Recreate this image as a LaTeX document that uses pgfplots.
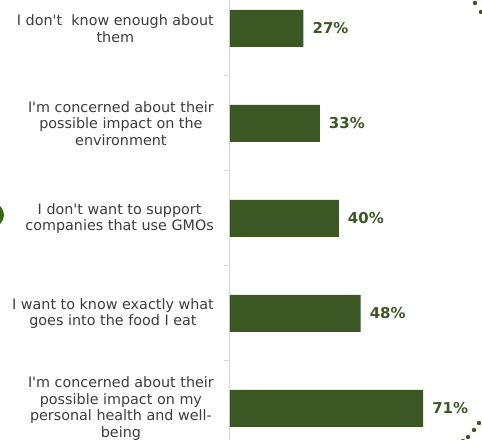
\documentclass[border=0pt]{standalone}
\usepackage{fontspec}
\setmainfont{DejaVu Sans}[Ligatures=TeXOff]
\usepackage{pgfplots}
\pgfplotsset{compat=1.18}
\definecolor{bargreen}{HTML}{3A5724}
\definecolor{labgray}{HTML}{3C3C3C}
\definecolor{axgray}{HTML}{D9D9D9}
\definecolor{decogreen}{HTML}{2E6B0E}
\begin{document}
\begin{tikzpicture}[x=1bp,y=1bp]
\begin{axis}[
  at={(0,0)}, anchor=south west,
  scale only axis, width=252bp, height=440bp,
  xbar, bar width=37bp,
  xmin=0, xmax=92.65,
  ymin=-0.3, ymax=4.332, y dir=reverse,
  axis x line=none,
  axis y line*=left,
  y axis line style={draw=axgray, line width=1bp},
  ytick={0,1,2,3,4},
  yticklabels={{I don't\ \ know enough about\\them},
               {I'm concerned about their\\possible impact on the\\environment},
               {I don't want to support\\companies that use GMOs},
               {I want to know exactly what\\goes into the food I eat},
               {I'm concerned about their\\possible impact on my\\personal health and well-\\being}},
  major tick length=0pt,
  yticklabel style={font=\fontsize{14.4}{16.7}\selectfont, text=labgray, align=center, anchor=east, inner sep=0pt, xshift=-16bp},
  extra y ticks={0.5,1.5,2.5,3.5},
  extra y tick labels={},
  extra y tick style={major tick length=6bp, tick style={draw=axgray, line width=1bp}, tick align=outside, tick pos=left},
  point meta=x,
  /pgf/number format/assume math mode=true,
  nodes near coords={\pgfmathprintnumber{\pgfplotspointmeta}\%},
  nodes near coords style={font=\bfseries\fontsize{15}{17}\selectfont, text=bargreen, anchor=west, inner sep=0pt, xshift=9bp},
  clip=false,
]
\addplot[fill=bargreen, draw=none] coordinates {(27,0) (33,1) (40,2) (48,3) (71,4)};
\end{axis}
\fill[decogreen] (-238,225) circle (12);
\foreach \p in {(245,437),(251,428),(233,-1),(238,3),(244,10),(249,17)} \fill[bargreen] \p circle (2.2);
\pgfresetboundingbox
\useasboundingbox (-230,0) rectangle (252,440);
\end{tikzpicture}
\end{document}
